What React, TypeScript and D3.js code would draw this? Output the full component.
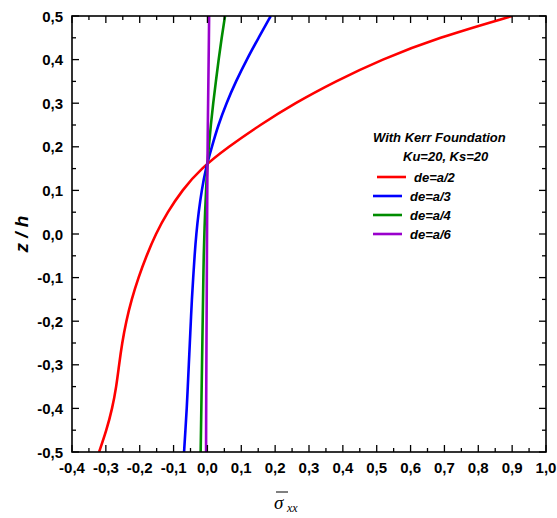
import React from "react";
import * as d3 from "d3";

// z/h levels shared by every curve
const zLevels = [-0.5, -0.45, -0.4, -0.35, -0.3, -0.25, -0.2, -0.15, -0.1, -0.05, 0, 0.05, 0.1, 0.15, 0.2, 0.25, 0.3, 0.35, 0.4, 0.45, 0.5];

const redValues = [-0.32, -0.298, -0.281, -0.269, -0.261, -0.252, -0.24, -0.224, -0.204, -0.18, -0.153, -0.118, -0.075, -0.02, 0.062, 0.155, 0.258, 0.378, 0.513, 0.68, 0.9];
const blueValues = [-0.069, -0.065, -0.061, -0.058, -0.055, -0.052, -0.049, -0.046, -0.042, -0.038, -0.033, -0.026, -0.017, -0.005, 0.013, 0.032, 0.056, 0.084, 0.116, 0.151, 0.187];
const greenValues = [-0.02, -0.019, -0.018, -0.017, -0.016, -0.015, -0.014, -0.013, -0.012, -0.011, -0.009, -0.007, -0.004, -0.001, 0.004, 0.01, 0.017, 0.025, 0.033, 0.042, 0.052];
const purpleValues = [-0.004, -0.0039, -0.0037, -0.0034, -0.0031, -0.0028, -0.0025, -0.0021, -0.0018, -0.0015, -0.0012, -0.0008, -0.0004, 0, 0.0006, 0.0012, 0.002, 0.0028, 0.0036, 0.0044, 0.005];

const seriesNames = ["de=a/2", "de=a/3", "de=a/4", "de=a/6"];
const seriesColors = ["#ff0000", "#0000ff", "#008c00", "#9900cc"];

const xTicks = [-0.4, -0.3, -0.2, -0.1, 0, 0.1, 0.2, 0.3, 0.4, 0.5, 0.6, 0.7, 0.8, 0.9, 1.0];
const yTicks = [-0.5, -0.4, -0.3, -0.2, -0.1, 0, 0.1, 0.2, 0.3, 0.4, 0.5];

const W = 557;
const H = 518;
const left = 72, right = 546, top = 16, bottom = 452;

const fmt = (v: number) => d3.format(".1f")(v).replace("−", "-").replace(".", ",");

export default function App() {
  const x = d3.scaleLinear().domain([-0.4, 1.0]).range([left, right]);
  const y = d3.scaleLinear().domain([-0.5, 0.5]).range([bottom, top]);

  const allSeries = [redValues, blueValues, greenValues, purpleValues];
  const line = d3
    .line<[number, number]>()
    .x((d) => x(d[0]))
    .y((d) => y(d[1]))
    .curve(d3.curveBasis);

  const xMinor = d3.range(-0.4, 1.0001, 0.05).map((v) => +v.toFixed(2));
  const yMinor = d3.range(-0.5, 0.5001, 0.05).map((v) => +v.toFixed(2));
  const isMajor = (v: number) => Math.abs(Math.round(v * 10) - v * 10) < 1e-6;

  const font = "'Liberation Sans', Arial, sans-serif";

  return (
    <svg width={W} height={H} style={{ position: "absolute", left: 0, top: 0, background: "#fff" }}>
      <defs>
        <clipPath id="plot">
          <rect x={left} y={top} width={right - left} height={bottom - top} />
        </clipPath>
      </defs>

      {/* curves */}
      <g clipPath="url(#plot)">
        {allSeries.map((vals, i) => (
          <path
            key={seriesNames[i]}
            d={line(vals.map((v, j) => [v, zLevels[j]] as [number, number])) || ""}
            fill="none"
            stroke={seriesColors[i]}
            strokeWidth={2.6}
          />
        ))}
      </g>

      {/* ticks on all four sides, pointing inward */}
      <g stroke="#000" strokeWidth={1.3}>
        {xMinor.map((v) => {
          const len = isMajor(v) ? 7 : 4;
          return (
            <g key={"x" + v}>
              <line x1={x(v)} x2={x(v)} y1={bottom} y2={bottom - len} />
              <line x1={x(v)} x2={x(v)} y1={top} y2={top + len} />
            </g>
          );
        })}
        {yMinor.map((v) => {
          const len = isMajor(v) ? 7 : 4;
          return (
            <g key={"y" + v}>
              <line x1={left} x2={left + len} y1={y(v)} y2={y(v)} />
              <line x1={right} x2={right - len} y1={y(v)} y2={y(v)} />
            </g>
          );
        })}
      </g>

      <rect x={left} y={top} width={right - left} height={bottom - top} fill="none" stroke="#000" strokeWidth={1.6} />

      {/* tick labels */}
      <g fontFamily={font} fontWeight="bold" fontSize={15} fill="#000">
        {xTicks.map((v) => (
          <text key={"xl" + v} x={x(v)} y={bottom + 21} textAnchor="middle">
            {fmt(v)}
          </text>
        ))}
        {yTicks.map((v) => (
          <text key={"yl" + v} x={left - 9} y={y(v) + 5.5} textAnchor="end">
            {fmt(v)}
          </text>
        ))}
      </g>

      {/* axis titles */}
      <text
        transform={`translate(28, ${(top + bottom) / 2}) rotate(-90)`}
        textAnchor="middle"
        fontFamily={font}
        fontWeight="bold"
        fontStyle="italic"
        fontSize={19}
      >
        z / h
      </text>
      <g fontFamily="'Liberation Serif', 'Times New Roman', serif" fontStyle="italic">
        <line x1={276} x2={288} y1={492} y2={492} stroke="#000" strokeWidth={1} />
        <text x={274} y={509} fontSize={19}>σ</text>
        <text x={287} y={512} fontSize={12}>xx</text>
      </g>

      {/* legend */}
      <g fontFamily={font} fontWeight="bold" fontStyle="italic" fontSize={13} fill="#000">
        <text x={373} y={142}>With Kerr Foundation</text>
        <text x={403} y={161}>Ku=20, Ks=20</text>
        {seriesNames.map((name, i) => {
          const ly = 177 + i * 19;
          const lx = i === 0 ? 377 : 373;
          return (
            <g key={"lg" + name}>
              <line x1={lx} x2={lx + 29} y1={ly} y2={ly} stroke={seriesColors[i]} strokeWidth={2.6} />
              <text x={lx + 37} y={ly + 4.5}>{name}</text>
            </g>
          );
        })}
      </g>
    </svg>
  );
}
